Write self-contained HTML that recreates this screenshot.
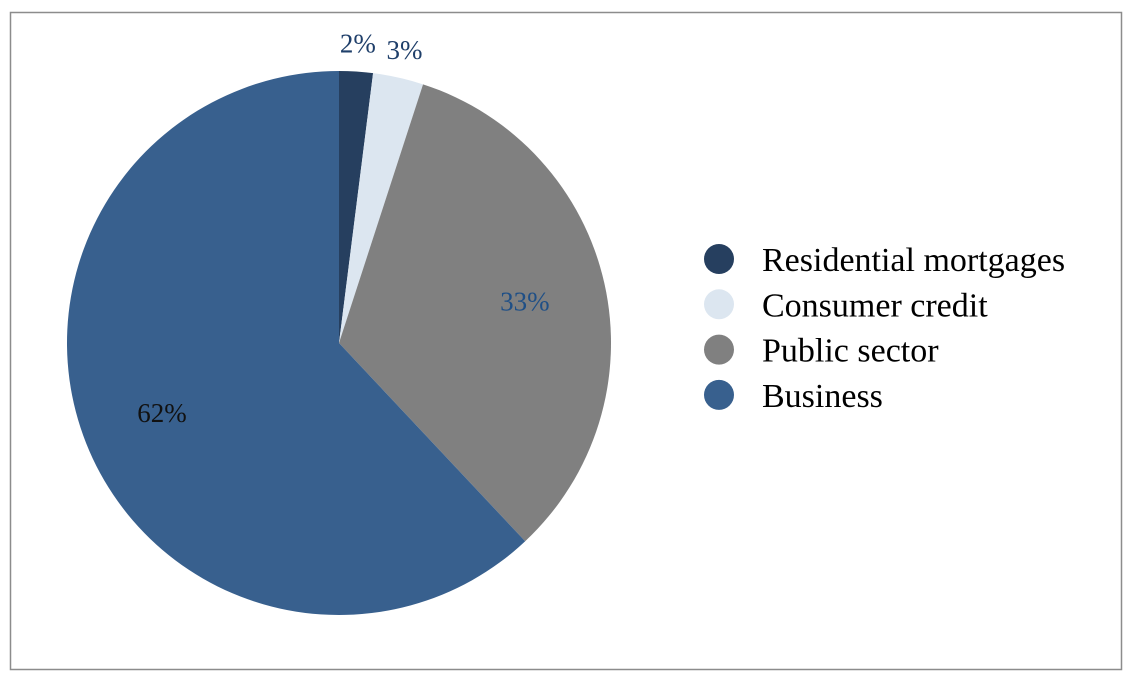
<!DOCTYPE html>
<html><head><meta charset="utf-8">
<style>
html,body{margin:0;padding:0;background:#fff;}
svg text{font-family:"Liberation Serif",serif;}
</style></head>
<body>
<svg id="chart" width="1134" height="682" xmlns="http://www.w3.org/2000/svg">
<rect x="10.5" y="12.5" width="1111" height="657" fill="#fff" stroke="#8c8c8c" stroke-width="1.5"/>
<g id="slices"></g>
<g id="labels"></g>
<g id="legend"></g>
</svg>
<script>
const categories = ["Residential mortgages","Consumer credit","Public sector","Business"];
const values = [2,3,33,62];
const valueLabels = ["2%","3%","33%","62%"];
const colors = ["#263f5f","#dce6f0","#808080","#38608e"];
const labelColors = ["#1f3f6a","#1f3f6a","#1f4f86","#111"];

const NS="http://www.w3.org/2000/svg";
const cx=339, cy=343, r=272;
const total=values.reduce((a,b)=>a+b,0);
function pt(frac, rad){const a=frac*2*Math.PI;return [cx+rad*Math.sin(a), cy-rad*Math.cos(a)];}
const gS=document.getElementById('slices'), gL=document.getElementById('labels'), gLeg=document.getElementById('legend');
let acc=0;
values.forEach((v,i)=>{
  const f0=acc/total, f1=(acc+v)/total; acc+=v;
  const [x0,y0]=pt(f0,r),[x1,y1]=pt(f1,r);
  const large=(f1-f0)>0.5?1:0;
  const p=document.createElementNS(NS,'path');
  p.setAttribute('d',`M${cx},${cy} L${x0},${y0} A${r},${r} 0 ${large} 1 ${x1},${y1} Z`);
  p.setAttribute('fill',colors[i]);
  
  
  gS.appendChild(p);
  const mid=(f0+f1)/2;
  const small=(f1-f0)<0.1;
  const [lx,ly]=small?pt(mid,r+28):pt(mid,r*0.7);
  const t=document.createElementNS(NS,'text');
  t.setAttribute('x',lx); t.setAttribute('y',ly+9);
  t.setAttribute('text-anchor','middle');
  t.setAttribute('font-size','27');
  t.setAttribute('fill',labelColors[i]);
  t.textContent=valueLabels[i];
  
  
  gL.appendChild(t);
  const ly2=259+i*45.3;
  const c=document.createElementNS(NS,'circle');
  c.setAttribute('cx',719); c.setAttribute('cy',ly2); c.setAttribute('r',15);
  c.setAttribute('fill',colors[i]);
  
  
  gLeg.appendChild(c);
  const lt=document.createElementNS(NS,'text');
  lt.setAttribute('x',762); lt.setAttribute('y',ly2+12);
  lt.setAttribute('font-size','34'); lt.setAttribute('fill','#000');
  lt.textContent=categories[i];
  
  
  gLeg.appendChild(lt);
});
</script>
</body></html>
